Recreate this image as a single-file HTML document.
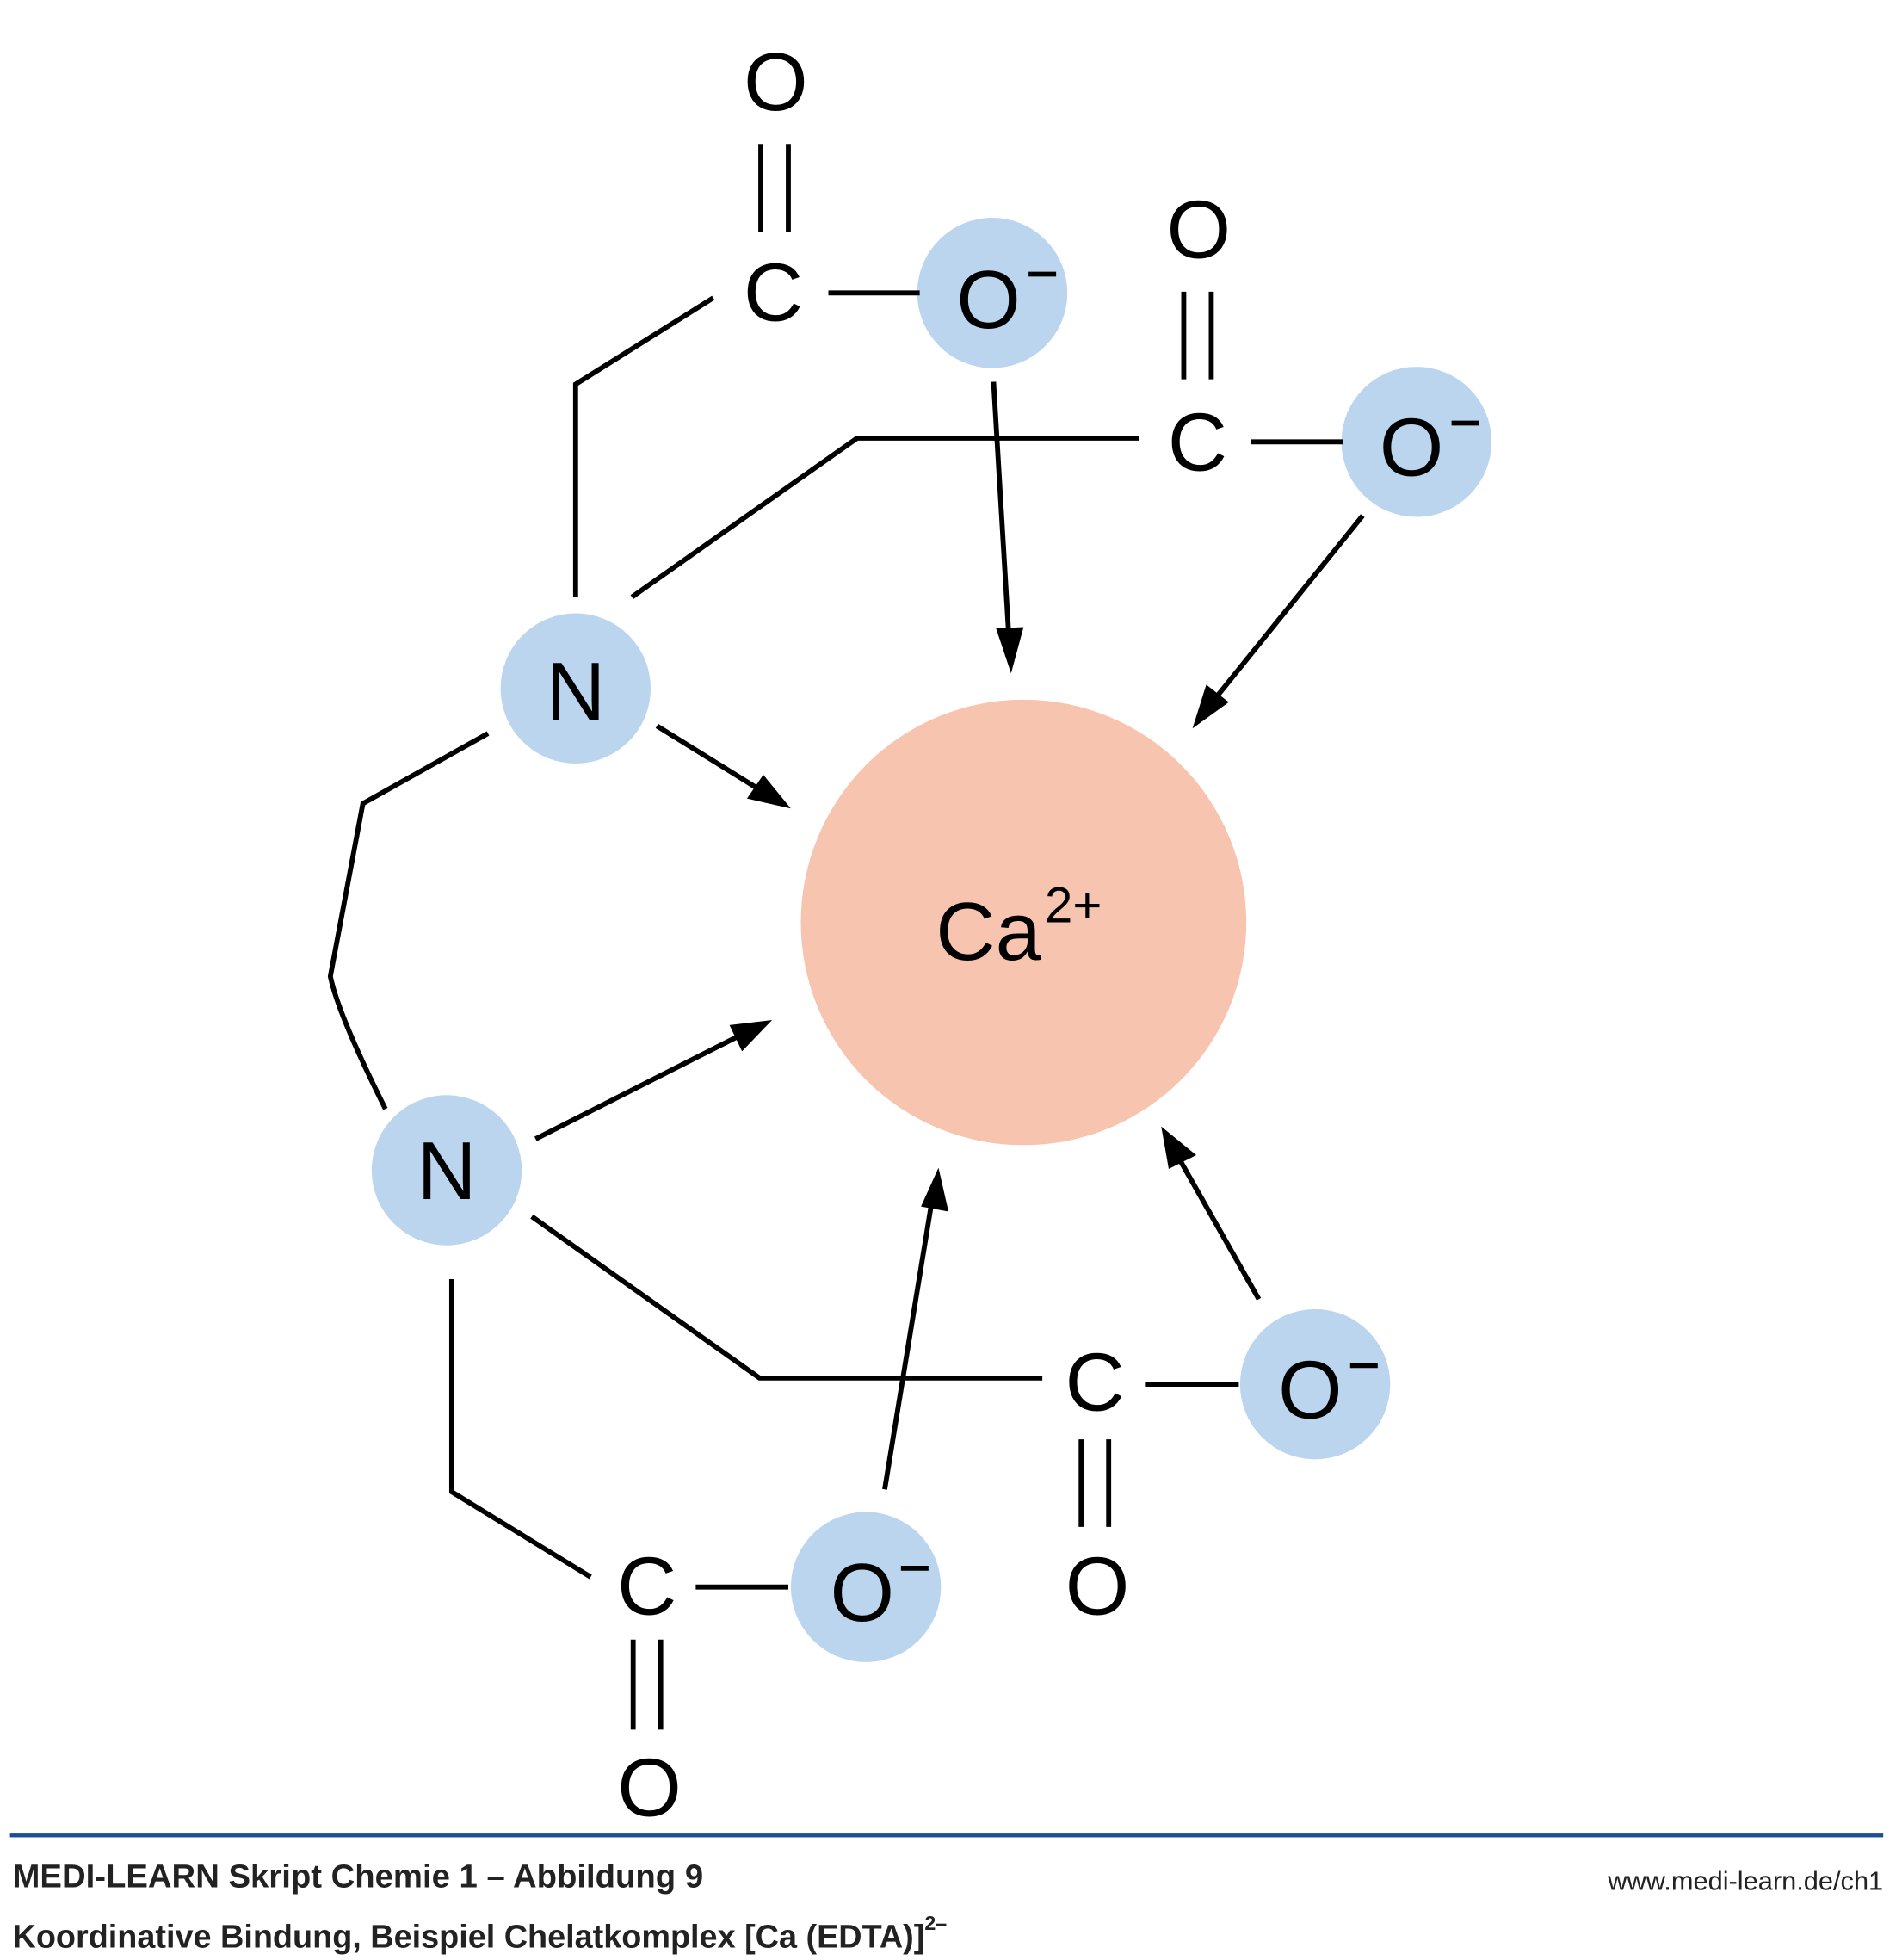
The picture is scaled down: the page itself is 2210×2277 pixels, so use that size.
<!DOCTYPE html>
<html><head><meta charset="utf-8"><style>
html,body{margin:0;padding:0;background:#fff;}
svg{display:block;}
text{font-family:"Liberation Sans",Arial,sans-serif;}
</style></head><body>
<svg width="2210" height="2277" viewBox="0 0 1520 1566" xmlns="http://www.w3.org/2000/svg">
<rect width="1520" height="1566" fill="#fff"/>
<circle cx="818" cy="737" r="178" fill="#f7c4b0"/>
<g fill="#bcd5ef">
<circle cx="793" cy="234" r="60"/>
<circle cx="1132" cy="353" r="60"/>
<circle cx="460" cy="550" r="60"/>
<circle cx="357" cy="935" r="60"/>
<circle cx="1051" cy="1106" r="60"/>
<circle cx="692" cy="1268" r="60"/>
</g>
<g stroke="#000" stroke-width="4" fill="none">
<line x1="608" y1="115" x2="608" y2="185"/><line x1="630" y1="115" x2="630" y2="185"/>
<line x1="662" y1="234" x2="735" y2="234"/>
<polyline points="570,238 460,307 460,477"/>
<line x1="946" y1="233" x2="946" y2="303"/><line x1="968" y1="233" x2="968" y2="303"/>
<line x1="1000" y1="353" x2="1073" y2="353"/>
<polyline points="910,350 685,350 505,477"/>
<path d="M390,586 L290,642 L264,780 Q270,810 308,886"/>
<polyline points="425,972 607,1101 833,1101"/>
<line x1="915" y1="1106" x2="990" y2="1106"/>
<line x1="864" y1="1150" x2="864" y2="1220"/><line x1="886" y1="1150" x2="886" y2="1220"/>
<polyline points="361,1022 361,1192 472,1260"/>
<line x1="556" y1="1268" x2="630" y2="1268"/>
<line x1="506" y1="1310" x2="506" y2="1382"/><line x1="528" y1="1310" x2="528" y2="1382"/>
<line x1="794" y1="305" x2="806" y2="505"/>
<line x1="1089" y1="412" x2="972" y2="557"/>
<line x1="525" y1="580" x2="604" y2="629"/>
<line x1="428" y1="910" x2="588" y2="829"/>
<line x1="707" y1="1190" x2="744" y2="964"/>
<line x1="1006" y1="1038" x2="943" y2="927"/>
</g>
<g fill="#000">
<polygon points="808,538 796,502 818,501"/>
<polygon points="953,582 964,547 982,561"/>
<polygon points="632,646 597,638 610,619"/>
<polygon points="617,815 593,840 583,819"/>
<polygon points="750,933 758,968 736,964"/>
<polygon points="928,900 956,923 934,934"/>
</g>
<g font-size="66" text-anchor="middle" fill="#000">
<text x="620" y="88">O</text>
<text x="618" y="256">C</text>
<text x="790" y="262">O</text>
<text x="958" y="206">O</text>
<text x="957" y="376">C</text>
<text x="1128" y="380">O</text>
<text x="460" y="575">N</text>
<text x="357" y="958">N</text>
<text x="875" y="1127">C</text>
<text x="1047" y="1133">O</text>
<text x="877" y="1290">O</text>
<text x="517" y="1290">C</text>
<text x="689" y="1295">O</text>
<text x="519" y="1451">O</text>
<text x="790" y="767">Ca</text>
</g>
<g stroke="#000" stroke-width="4">
<line x1="822" y1="219" x2="844" y2="219"/>
<line x1="1160" y1="338" x2="1182" y2="338"/>
<line x1="1079" y1="1091" x2="1101" y2="1091"/>
<line x1="720" y1="1253" x2="742" y2="1253"/>
</g>
<text x="835" y="737" font-size="40" fill="#000">2+</text>
<rect x="8" y="1465" width="1497" height="3" fill="#1b4f95"/>
<g fill="#222">
<text x="10" y="1508" font-size="26" font-weight="bold" textLength="552" lengthAdjust="spacingAndGlyphs">MEDI-LEARN Skript Chemie 1 – Abbildung 9</text>
<text x="10" y="1556" font-size="26" font-weight="bold">Koordinative Bindung, Beispiel Chelatkomplex [Ca (EDTA)]<tspan font-size="16" dy="-14">2–</tspan></text>
<text x="1505" y="1510" font-size="21" text-anchor="end" textLength="220" lengthAdjust="spacingAndGlyphs">www.medi-learn.de/ch1</text>
</g>
</svg>
</body></html>
